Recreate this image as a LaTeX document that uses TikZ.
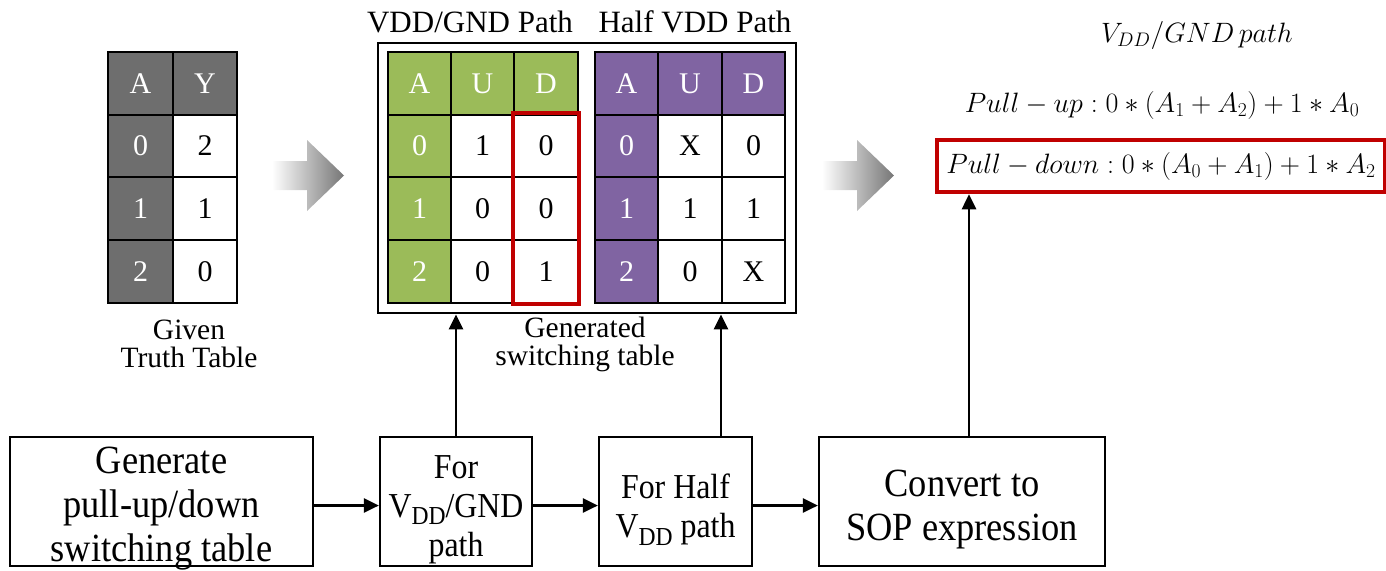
\RequirePackage{fix-cm}
\documentclass[tikz,border=0pt]{standalone}
\usepackage[no-math]{fontspec}
\setmainfont{Liberation Serif}
\newfontfamily\boxfont[FakeStretch=0.91]{Liberation Serif}
\usepackage{graphicx}
\usetikzlibrary{arrows.meta}
\definecolor{cellgray}{HTML}{6E6E6E}
\definecolor{vddgreen}{HTML}{9BBB59}
\definecolor{halfpurple}{HTML}{8064A2}
\definecolor{hired}{HTML}{C00000}
\definecolor{arrowgray}{HTML}{767676}
% supply-rail subscript used in the flow boxes
\newcommand\sdd{\raisebox{-0.22em}{\scalebox{0.74}{DD}}}
\begin{document}
\begin{tikzpicture}[x=1pt,y=-1pt,
  gridline/.style={line width=2.8pt},
  celltxt/.style={font=\fontsize{30}{30}\selectfont, inner sep=0pt},
  hd/.style={celltxt, text=white},
  vl/.style={celltxt, text=black},
  lbl/.style={align=center, font=\fontsize{29.5}{28}\selectfont, inner sep=0pt},
  hdr/.style={font=\fontsize{31}{31}\selectfont, inner sep=0pt},
  flowbox/.style={draw, line width=2.2pt, inner sep=0pt, minimum height=129pt},
  bigtxt/.style={align=center, inner sep=0pt, font=\boxfont\fontsize{40}{44}\selectfont},
  smalltxt/.style={align=center, inner sep=0pt, font=\boxfont\fontsize{35}{39}\selectfont},
  arr/.style={line width=2.6pt, -{Triangle[length=15pt,width=14pt]}},
  mathtxt/.style={font=\fontsize{28}{31}\selectfont, inner sep=0pt},
  hibox/.style={draw=hired, line width=4.5pt},
  fadearrow/.style={left color=white, right color=arrowgray, draw=none}
]
\useasboundingbox (0,0) rectangle (1386,570);

% ---------- given truth table ----------
\fill[cellgray] (108,52) rectangle (237,115);
\fill[cellgray] (108,52) rectangle (173,303);
\draw[gridline] (108,52) rectangle (237,303);
\draw[gridline] (173,52) -- (173,303);
\foreach \y in {115,177,240} \draw[gridline] (108,\y) -- (237,\y);
\node[hd] (tt-A) at (140.5,83.5) {A};
\node[hd] (tt-Y) at (205,83.5) {Y};
\foreach \a/\v/\yc [count=\i] in {0/2/146,1/1/208.5,2/0/271.5} {
  \node[hd] (tt-a\i) at (140.5,\yc) {\a};
  \node[vl] (tt-y\i) at (205,\yc) {\v};
}
\node[lbl] (given) at (189,344) {Given\\Truth Table};

% ---------- switching table frame ----------
\node[draw, line width=2.8pt, inner sep=0pt, minimum width=418pt,
  minimum height=270pt] (sw) at (587,178) {};

% VDD/GND path table
\fill[vddgreen] (388,52) rectangle (578,115);
\fill[vddgreen] (388,52) rectangle (451,303);
\draw[gridline] (388,52) rectangle (578,303);
\foreach \x in {451,514} \draw[gridline] (\x,52) -- (\x,303);
\foreach \y in {115,177,240} \draw[gridline] (388,\y) -- (578,\y);
\node[hd] (g-A) at (419.5,83.5) {A};
\node[hd] (g-U) at (482.5,83.5) {U};
\node[hd] (g-D) at (546,83.5) {D};
\foreach \a/\u/\d/\yc [count=\i] in {0/1/0/146,1/0/0/208.5,2/0/1/271.5} {
  \node[hd] (g-a\i) at (419.5,\yc) {\a};
  \node[vl] (g-u\i) at (482.5,\yc) {\u};
  \node[vl] (g-d\i) at (546,\yc) {\d};
}
\draw[hibox] (513,113) rectangle (579,304);

% half VDD path table
\fill[halfpurple] (595,52) rectangle (785,115);
\fill[halfpurple] (595,52) rectangle (658,303);
\draw[gridline] (595,52) rectangle (785,303);
\foreach \x in {658,722} \draw[gridline] (\x,52) -- (\x,303);
\foreach \y in {115,177,240} \draw[gridline] (595,\y) -- (785,\y);
\node[hd] (p-A) at (626.5,83.5) {A};
\node[hd] (p-U) at (690,83.5) {U};
\node[hd] (p-D) at (753.5,83.5) {D};
\foreach \a/\u/\d/\yc [count=\i] in {0/X/0/146,1/1/1/208.5,2/0/X/271.5} {
  \node[hd] (p-a\i) at (626.5,\yc) {\a};
  \node[vl] (p-u\i) at (690,\yc) {\u};
  \node[vl] (p-d\i) at (753.5,\yc) {\d};
}

\node[hdr, anchor=base] (h-vdd) at (470,32) {VDD/GND Path};
\node[hdr, anchor=base] (h-half) at (695,32) {Half VDD Path};
\node[lbl] (gen) at (585,344) {Generated\\switching table};

% ---------- shaded transition arrows ----------
\shade[fadearrow] (272,161) -- (307,161) -- (307,140) -- (344,175.5)
  -- (307,211) -- (307,190) -- (272,190) -- cycle;
\shade[fadearrow] (822,161) -- (857,161) -- (857,140) -- (894,175.5)
  -- (857,211) -- (857,190) -- (822,190) -- cycle;

% ---------- SOP expressions ----------
\node[mathtxt, anchor=base] (title) at (1197,42) {$V_{DD}/GND\,path$};
\node[mathtxt, anchor=base] (pu) at (1162,112)
  {$Pull-up: 0*(A_1+A_2)+1*A_0$};
\node[hibox, inner sep=0pt, minimum width=448pt, minimum height=52pt]
  (pd) at (1161,166) {};
\node[mathtxt, anchor=base] (pdtxt) at (1161,173)
  {$Pull-down: 0*(A_0+A_1)+1*A_2$};

% ---------- flow boxes ----------
\node[flowbox, minimum width=303pt] (b1) at (161.5,501.5) {};
\node[bigtxt] (b1t) at ([yshift=-7pt]b1.center)
  {Generate\\pull-up/down\\switching table};
\node[flowbox, minimum width=152pt] (b2) at (456,501.5) {};
\node[smalltxt] (b2t) at ([yshift=-8pt]b2.center) {For\\V\sdd/GND\\path};
\node[flowbox, minimum width=153pt] (b3) at (675.5,501.5) {};
\node[smalltxt] (b3t) at ([yshift=-8pt]b3.center) {For Half\\V\sdd{} path};
\node[flowbox, minimum width=286pt] (b4) at (962,501.5) {};
\node[bigtxt] (b4t) at ([yshift=-8pt]b4.center) {Convert to\\SOP expression};

\draw[arr] ([yshift=-4pt]b1.east) -- ([yshift=-4pt]b2.west);
\draw[arr] ([yshift=-4pt]b2.east) -- ([yshift=-4pt]b3.west);
\draw[arr] ([yshift=-4pt]b3.east) -- ([yshift=-4pt]b4.west);

\draw[arr] (b2.north) -- (b2.north |- sw.south);
\coordinate (up3) at (721,437);
\draw[arr] (up3) -- (up3 |- sw.south);
\coordinate (up4) at (969,437);
\draw[arr] (up4) -- (up4 |- pd.south);
\end{tikzpicture}
\end{document}
